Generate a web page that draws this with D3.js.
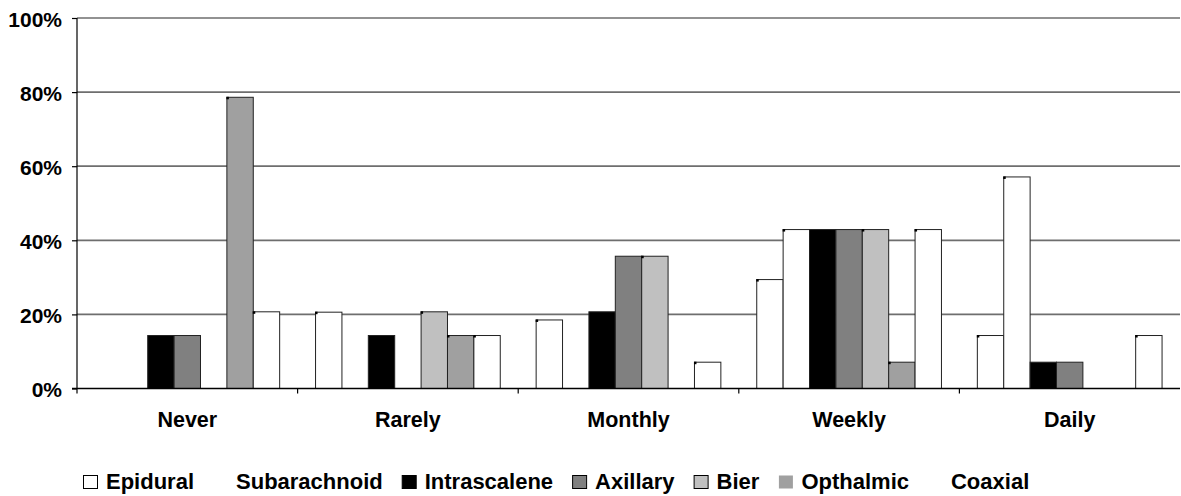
<meta charset="utf-8">
<svg width="1181" height="496"></svg>
<script src="https://d3js.org/d3.v7.min.js"></script>
<style>
  body { margin: 0; background: #fff; }
  svg text { font-family: Arial, "Liberation Sans", sans-serif; font-weight: bold; }
</style>
<script>
// how often each block is used (share of respondents)
var categories = ["Never", "Rarely", "Monthly", "Weekly", "Daily"];
var seriesNames = ["Epidural", "Subarachnoid", "Intrascalene", "Axillary", "Bier", "Opthalmic", "Coaxial"];

var epidural     = [0,     0.206, 0.185, 0.294, 0.143];
var subarachnoid = [0,     0,     0,     0.429, 0.571];
var intrascalene = [0.143, 0.143, 0.207, 0.429, 0.071];
var axillary     = [0.143, 0,     0.357, 0.429, 0.071];
var bier         = [0,     0.207, 0.357, 0.429, 0];
var opthalmic    = [0.786, 0.143, 0,     0.071, 0];
var coaxial      = [0.207, 0.143, 0.071, 0.429, 0.143];

var yTicks = [0, 0.2, 0.4, 0.6, 0.8, 1];

var seriesValues = [epidural, subarachnoid, intrascalene, axillary, bier, opthalmic, coaxial];
var fills   = ["#ffffff", "#ffffff", "#000000", "#808080", "#c0c0c0", "#a0a0a0", "#ffffff"];
// legend swatch outline (null = no outline, as in the original)
var swatchStroke = ["#000", null, "#000", "#000", "#000", null, null];
var dotted = [true, true, false, false, true, true, true];

var data = categories.map(function(c, i) {
  var row = { cat: c };
  seriesNames.forEach(function(s, j) { row[s] = seriesValues[j][i]; });
  return row;
});

var svg = d3.select("svg"),
    margin = {top: 18, right: 1, bottom: 107.5, left: 77},
    width = +svg.attr("width"),
    height = +svg.attr("height");

var x0 = d3.scaleBand()
    .domain(categories)
    .range([margin.left, width - margin.right])
    .paddingInner(0).paddingOuter(0);

var x1 = d3.scaleBand()
    .domain(seriesNames)
    .range([0, x0.bandwidth()])
    .paddingInner(0).paddingOuter(0.68);

var y = d3.scaleLinear()
    .domain([0, 1])
    .range([height - margin.bottom, margin.top]);

// gridlines
svg.append("g")
  .selectAll("line")
  .data(yTicks.filter(function(t) { return t > 0; }))
  .enter().append("line")
    .attr("x1", margin.left)
    .attr("x2", width - margin.right)
    .attr("y1", function(d) { return y(d); })
    .attr("y2", function(d) { return y(d); })
    .attr("stroke", "#6e6e6e")
    .attr("stroke-width", 1.7);

// bars
var groups = svg.append("g")
  .selectAll("g")
  .data(data)
  .enter().append("g")
    .attr("transform", function(d) { return "translate(" + x0(d.cat) + ",0)"; });

groups.selectAll("rect")
  .data(function(d) { return seriesNames.map(function(s, j) { return {key: s, j: j, value: d[s]}; }); })
  .enter().filter(function(d) { return d.value > 0; }).append("rect")
    .attr("x", function(d) { return x1(d.key); })
    .attr("y", function(d) { return y(d.value); })
    .attr("width", x1.bandwidth())
    .attr("height", function(d) { return y(0) - y(d.value); })
    .attr("fill", function(d) { return fills[d.j]; })
    .attr("stroke", "#222")
    .attr("stroke-width", 1);

// little corner dots seen on the original bars
groups.selectAll("rect.dot")
  .data(function(d) { return seriesNames.map(function(s, j) { return {key: s, j: j, value: d[s]}; }); })
  .enter().filter(function(d) { return d.value > 0 && dotted[d.j]; }).append("rect")
    .attr("class", "dot")
    .attr("x", function(d) { return x1(d.key) - 0.5; })
    .attr("y", function(d) { return y(d.value) - 0.5; })
    .attr("width", 2.5)
    .attr("height", 2.5)
    .attr("fill", "#000");

// y axis
var yAxis = svg.append("g")
    .attr("transform", "translate(" + margin.left + ",0)")
    .call(d3.axisLeft(y).tickValues(yTicks).tickSize(5).tickPadding(10).tickFormat(d3.format(".0%")));
yAxis.select(".domain").remove();
yAxis.selectAll("line").attr("stroke", "#000").attr("stroke-width", 1.2);
yAxis.selectAll("text").attr("font-size", "21px").attr("fill", "#000").attr("dy", "0.4em");

svg.append("line")
    .attr("x1", margin.left).attr("x2", margin.left)
    .attr("y1", margin.top).attr("y2", y(0) + 5)
    .attr("stroke", "#000").attr("stroke-width", 1.2);

// x axis: baseline, ticks between categories, centred labels
svg.append("line")
    .attr("x1", margin.left - 5).attr("x2", width - margin.right)
    .attr("y1", y(0)).attr("y2", y(0))
    .attr("stroke", "#000").attr("stroke-width", 1.4);

svg.append("g")
  .selectAll("line")
  .data(categories.slice(1))
  .enter().append("line")
    .attr("x1", function(d) { return x0(d); })
    .attr("x2", function(d) { return x0(d); })
    .attr("y1", y(0))
    .attr("y2", y(0) + 5)
    .attr("stroke", "#000")
    .attr("stroke-width", 1.2);

svg.append("g")
  .selectAll("text")
  .data(categories)
  .enter().append("text")
    .attr("x", function(d) { return x0(d) + x0.bandwidth() / 2; })
    .attr("y", 427)
    .attr("text-anchor", "middle")
    .attr("font-size", "21.5px")
    .text(function(d) { return d; });

// legend
var legend = svg.append("g");
var lx = 83;
seriesNames.forEach(function(s, j) {
  var item = legend.append("g");
  item.append("rect")
    .attr("x", lx + 0.5).attr("y", 475.5)
    .attr("width", 14).attr("height", 13)
    .attr("fill", fills[j])
    .attr("stroke", swatchStroke[j] || "none")
    .attr("stroke-width", 1);
  var t = item.append("text")
    .attr("x", lx + 23)
    .attr("y", 489)
    .attr("font-size", "22px")
    .text(s);
  lx = lx + 23 + t.node().getComputedTextLength() + 19;
});
</script>
